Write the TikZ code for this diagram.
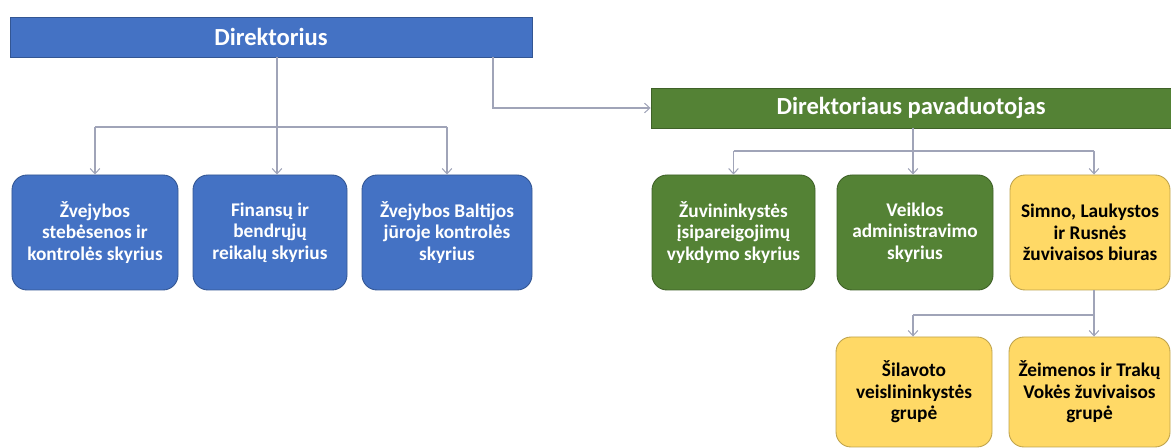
\documentclass[tikz,border=0pt]{standalone}
\usepackage{fontspec}
\setmainfont{Carlito}
\usetikzlibrary{arrows.meta}

\begin{document}
\begin{tikzpicture}[
    hdbox/.style={shape=rectangle,draw=#1!75!black,fill=#1,line width=0.5pt,minimum height=0.8cm,
        text=white,font=\fontsize{14}{16}\selectfont\bfseries},
    unitbox/.style={shape=rectangle,rounded corners=0.3cm,draw=#1!75!black,fill=#1,line width=0.5pt,
        minimum height=2.3cm,align=center,text=white,font=\fontsize{11}{12.2}\selectfont\bfseries},
    link/.style={draw=linkgray,line width=0.6pt},
    >={Straight Barb[length=3pt,width=5.5pt]}]
    \definecolor{dirblue}{RGB}{68,114,196}
    \definecolor{depgreen}{RGB}{84,130,53}
    \definecolor{officeyellow}{RGB}{255,217,102}
    \definecolor{linkgray}{RGB}{160,164,184}
    \useasboundingbox (0,0) rectangle (23.42,8.96);
    % top level
    \node[hdbox=dirblue,minimum width=10.44cm] (dir) at (5.42,8.22) {Direktorius};
    \node[hdbox=depgreen,minimum width=10.4cm] (dep) at (18.22,6.8) {Direktoriaus pavaduotojas};
    % units under the director
    \node[unitbox=dirblue,minimum width=3.32cm] (b1) at (1.9,4.31) {Žvejybos\\stebėsenos ir\\kontrolės skyrius};
    \node[unitbox=dirblue,minimum width=3.08cm] (b2) at (5.4,4.31) {Finansų ir\\bendrųjų\\reikalų skyrius};
    \node[unitbox=dirblue,minimum width=3.4cm] (b3) at (8.94,4.31) {Žvejybos Baltijos\\jūroje kontrolės\\skyrius};
    % units under the deputy
    \node[unitbox=depgreen,minimum width=3.26cm] (g1) at (14.67,4.31) {Žuvininkystės\\įsipareigojimų\\vykdymo skyrius};
    \node[unitbox=depgreen,minimum width=3.12cm] (g2) at (18.3,4.31) {Veiklos\\administravimo\\skyrius};
    \node[unitbox=officeyellow,minimum width=3.2cm,text=black] (y1) at (21.8,4.31) {Simno, Laukystos\\ir Rusnės\\žuvivaisos biuras};
    \node[unitbox=officeyellow,minimum width=3.12cm,minimum height=2.2cm,text=black] (l1) at (18.28,1.12) {Šilavoto\\veislininkystės\\grupė};
    \node[unitbox=officeyellow,minimum width=3.22cm,minimum height=2.2cm,text=black] (l2) at (21.79,1.12) {Žeimenos ir Trakų\\Vokės žuvivaisos\\grupė};
    % connectors
    \coordinate (dbus) at (5.54,6.42);
    \coordinate (elb) at (9.86,6.8);
    \coordinate (gbus) at (18.26,5.94);
    \coordinate (ybus) at (21.88,2.66);
    \draw[link] (dir.south -| dbus) -- (dbus);
    \draw[link] (b1.north |- dbus) -- (b3.north |- dbus);
    \draw[link,->] (b1.north |- dbus) -- (b1.north);
    \draw[link,->] (dbus) -- (dbus |- b2.north);
    \draw[link,->] (b3.north |- dbus) -- (b3.north);
    \draw[link,->] (dir.south -| elb) |- (dep.west);
    \draw[link] (dep.south -| gbus) -- (gbus);
    \draw[link] (g1.north |- gbus) -- (ybus |- gbus);
    \draw[link,->] (g1.north |- gbus) -- (g1.north);
    \draw[link,->] (gbus) -- (gbus |- g2.north);
    \draw[link,->] (ybus |- gbus) -- (ybus |- y1.north);
    \draw[link] (ybus |- y1.south) -- (ybus);
    \draw[link] (ybus) -- (gbus |- ybus);
    \draw[link,->] (gbus |- ybus) -- (gbus |- l1.north);
    \draw[link,->] (ybus) -- (ybus |- l2.north);
\end{tikzpicture}
\end{document}
